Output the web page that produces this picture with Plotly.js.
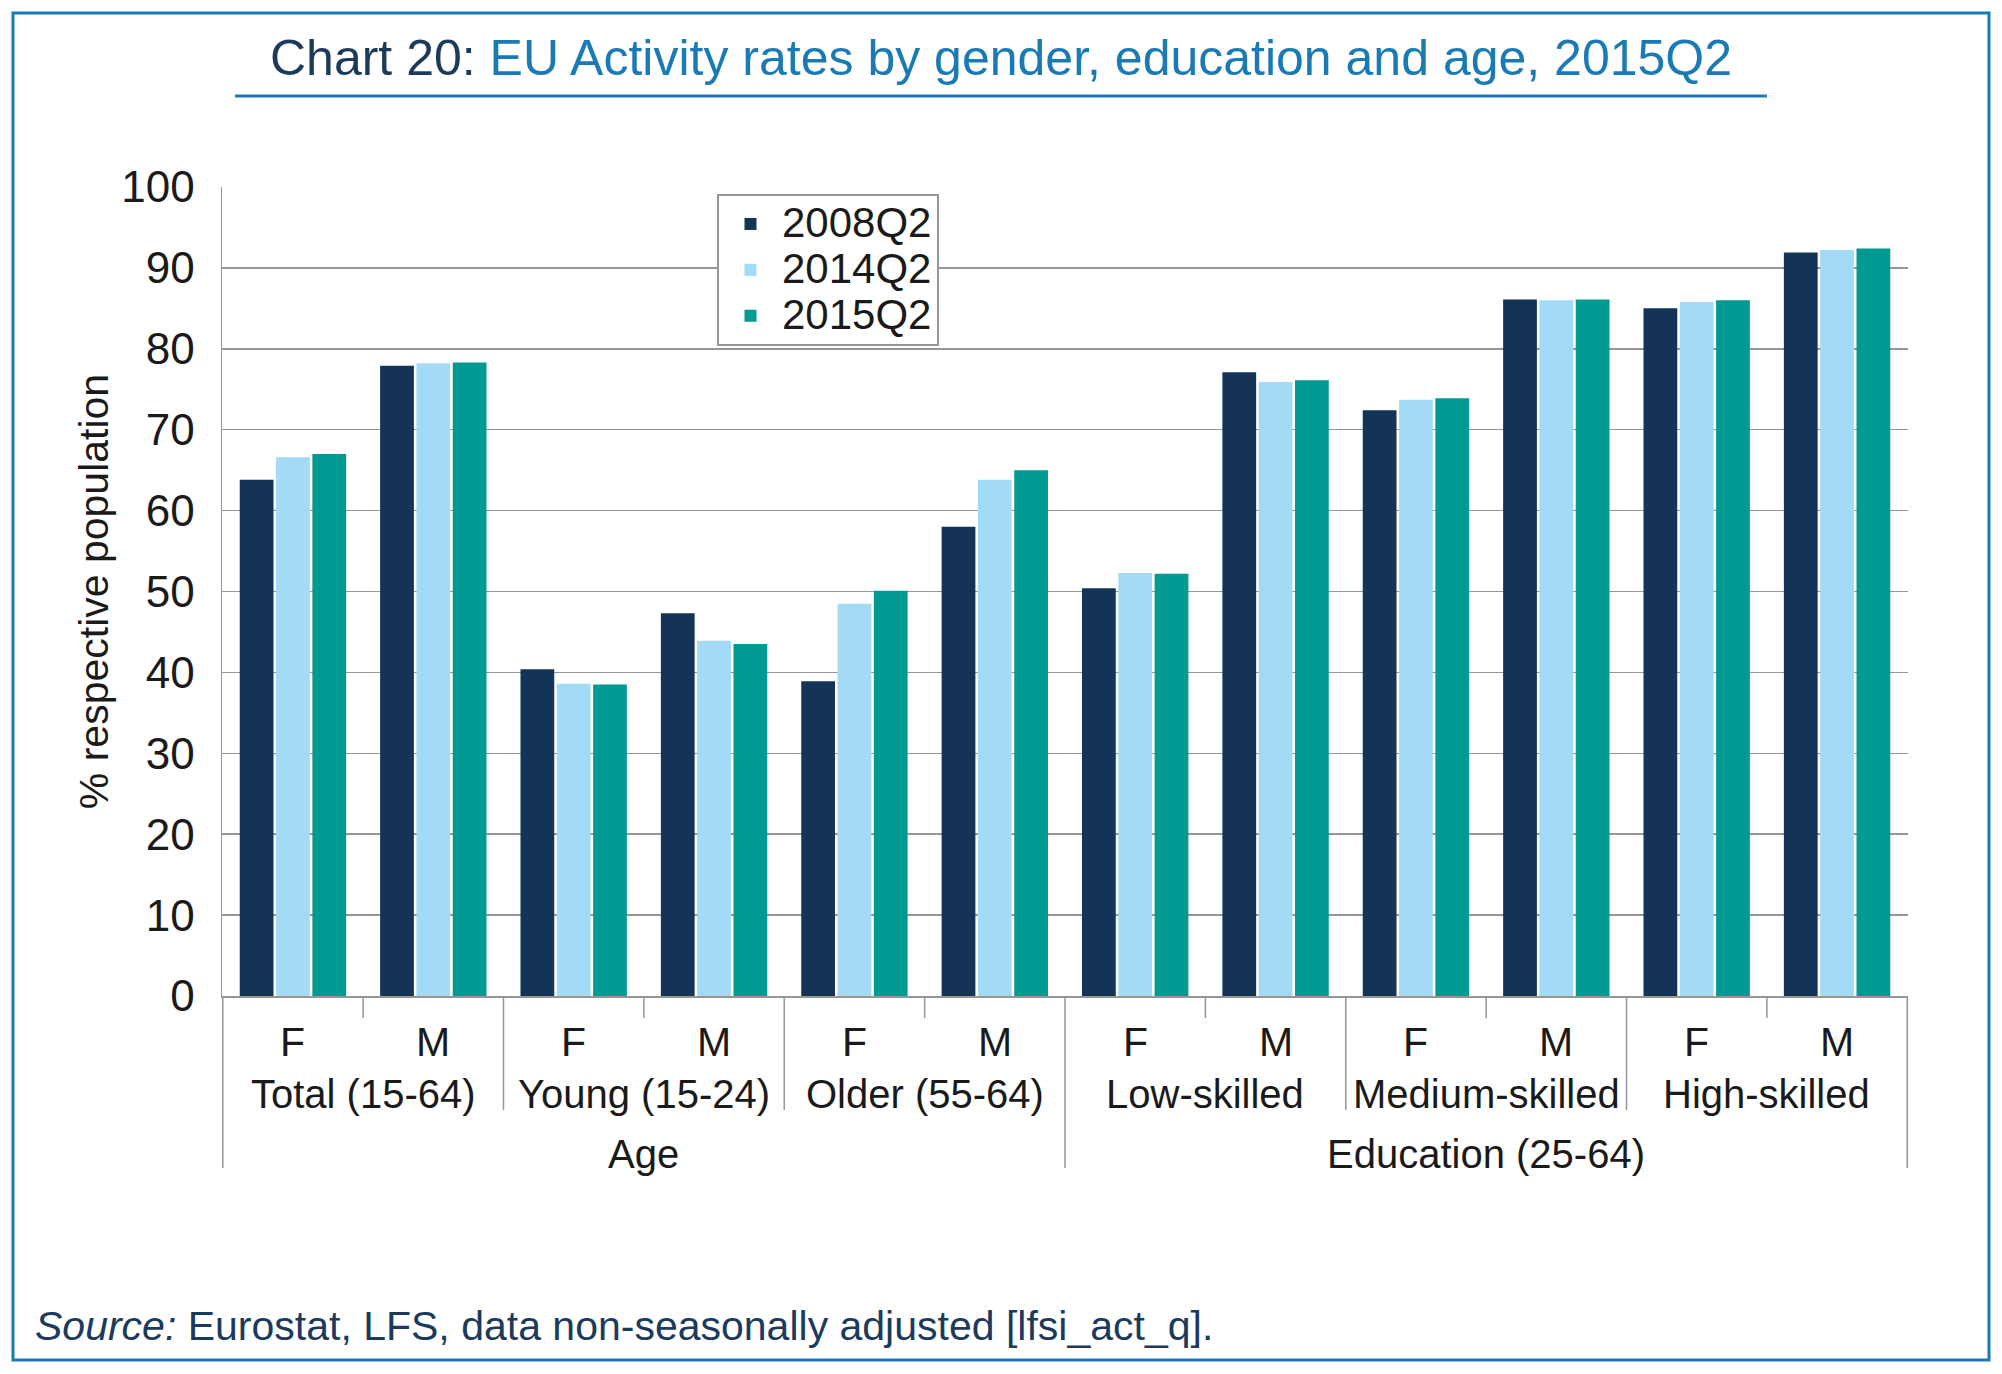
<!DOCTYPE html>
<html>
<head>
<meta charset="utf-8">
<script src="https://cdn.plot.ly/plotly-3.0.1.min.js"></script>
<style>
  html, body { margin: 0; padding: 0; background: #ffffff; }
  #chart { width: 2002px; height: 1374px; }
</style>
</head>
<body>
<div id="chart"></div>
<script>
// ---- Data ----
const superGroups = ["Age", "Education (25-64)"];
const groups = ["Total (15-64)", "Young (15-24)", "Older (55-64)", "Low-skilled", "Medium-skilled", "High-skilled"];
const genders = ["F", "M"];
const seriesNames = ["2008Q2", "2014Q2", "2015Q2"];
const values2008 = [63.8, 77.9, 40.4, 47.3, 38.9, 58.0, 50.4, 77.1, 72.4, 86.1, 85.0, 91.9];
const values2014 = [66.6, 78.2, 38.6, 43.9, 48.5, 63.8, 52.3, 75.9, 73.7, 86.0, 85.8, 92.2];
const values2015 = [67.0, 78.3, 38.5, 43.5, 50.1, 65.0, 52.2, 76.1, 73.9, 86.1, 86.0, 92.4];
const yTicks = [0, 10, 20, 30, 40, 50, 60, 70, 80, 90, 100];

// ---- Styles / geometry ----
const W = 2002, H = 1374;
const PL = 222, PR = 1908, PT = 187, PB = 996;
const colors = ["#133457", "#a3daf6", "#009a93"];
const navy = "#1b3a5c", blue = "#1a7ab5", grid = "#969696", txt = "#1a1a1a";
const FONT = "Liberation Sans, Arial, sans-serif";

const px2x = p => (p - PL) / (PR - PL);
const py2y = p => (PB - p) / (PB - PT);

// categories: one per group x gender
const cats = [];
groups.forEach(g => genders.forEach(s => cats.push(g + " " + s)));

const allValues = [values2008, values2014, values2015];
const traces = seriesNames.map((n, i) => ({
  type: "bar",
  name: '<span style="font-size:42px">' + n + '</span>',
  x: cats,
  y: allValues[i],
  marker: { color: colors[i], line: { width: 0 } }
}));

const shapes = [];
const annotations = [];

// dividers under the axis
const perSuper = cats.length / superGroups.length;
for (let k = 0; k <= cats.length; k++) {
  const pos = k - 0.5;
  let depth;
  if (k % perSuper === 0) depth = 1168;
  else if (k % genders.length === 0) depth = 1110;
  else depth = 1018;
  shapes.push({ type: "line", xref: "x", yref: "paper", x0: pos, x1: pos, y0: 0, y1: py2y(depth),
    line: { color: grid, width: 1.5 } });
}
// gender labels
cats.forEach((c, k) => {
  annotations.push({ xref: "x", yref: "paper", x: k, y: py2y(1042), text: genders[k % genders.length],
    showarrow: false, xanchor: "center", yanchor: "middle", font: { family: FONT, size: 41, color: txt } });
});
// group labels
groups.forEach((g, j) => {
  annotations.push({ xref: "x", yref: "paper", x: j * genders.length + (genders.length - 1) / 2, y: py2y(1094), text: g,
    showarrow: false, xanchor: "center", yanchor: "middle", font: { family: FONT, size: 40, color: txt } });
});
// super group labels
superGroups.forEach((s, j) => {
  annotations.push({ xref: "x", yref: "paper", x: j * perSuper + (perSuper - 1) / 2, y: py2y(1154), text: s,
    showarrow: false, xanchor: "center", yanchor: "middle", font: { family: FONT, size: 40, color: txt } });
});

// outer frame
shapes.push({ type: "rect", xref: "paper", yref: "paper", x0: px2x(13), x1: px2x(1989), y0: py2y(1360), y1: py2y(13),
  line: { color: blue, width: 3 }, fillcolor: "rgba(0,0,0,0)", layer: "below" });
// title underline
shapes.push({ type: "line", xref: "paper", yref: "paper", x0: px2x(235), x1: px2x(1767), y0: py2y(96), y1: py2y(96),
  line: { color: blue, width: 3 } });

// source
annotations.push({ xref: "paper", yref: "paper", x: px2x(33), y: py2y(1326), xanchor: "left", yanchor: "middle",
  text: "<i>Source:</i> Eurostat, LFS, data non-seasonally adjusted [lfsi_act_q].", showarrow: false,
  font: { family: FONT, size: 41, color: navy } });

const layout = {
  width: W, height: H,
  paper_bgcolor: "#ffffff", plot_bgcolor: "#ffffff",
  margin: { l: PL, r: W - PR, t: PT, b: H - PB, pad: 0 },
  title: {
    text: '<span style="color:' + navy + '">Chart 20:</span> EU Activity rates by gender, education and age, 2015Q2',
    x: 0.5, xref: "container", xanchor: "center",
    y: 1 - 57 / H, yref: "container", yanchor: "middle",
    font: { family: FONT, size: 50, color: blue }
  },
  barmode: "group",
  bargap: 0.224,
  bargroupgap: 0.07,
  showlegend: true,
  legend: {
    x: px2x(717), y: py2y(194), xanchor: "left", yanchor: "top",
    bgcolor: "#ffffff", bordercolor: grid, borderwidth: 2,
    font: { family: FONT, size: 33, color: txt },
    itemwidth: 53,
    traceorder: "normal"
  },
  xaxis: {
    type: "category",
    showticklabels: false,
    showgrid: false,
    showline: true, linecolor: grid, linewidth: 2,
    ticks: "", fixedrange: true
  },
  yaxis: {
    range: [0, 100],
    tickvals: yTicks,
    ticktext: yTicks.map(String),
    showgrid: true, gridcolor: grid, gridwidth: 1.5,
    showline: true, linecolor: grid, linewidth: 1.5,
    zeroline: false,
    ticks: "", ticklabelstandoff: 17,
    tickfont: { family: FONT, size: 44, color: txt },
    title: { text: "% respective population", standoff: 0, font: { family: FONT, size: 41, color: txt } },
    automargin: false,
    fixedrange: true
  },
  shapes: shapes,
  annotations: annotations
};

Plotly.newPlot("chart", traces, layout, { displayModeBar: false, staticPlot: true });
</script>
</body>
</html>
